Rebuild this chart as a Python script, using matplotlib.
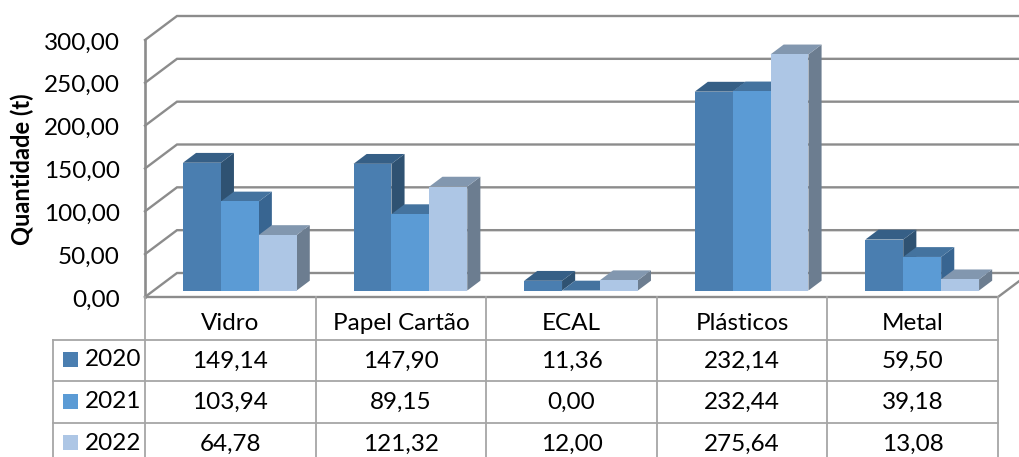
import numpy as np
import matplotlib
matplotlib.use('Agg')
import matplotlib.pyplot as plt
from matplotlib.patches import Polygon, Rectangle

plt.rcParams['font.family'] = ['Lato', 'DejaVu Sans']

categories = ['Vidro', 'Papel Cartão', 'ECAL', 'Plásticos', 'Metal']
years = ['2020', '2021', '2022']
v2020 = [149.14, 147.90, 11.36, 232.14, 59.50]
v2021 = [103.94, 89.15, 0.00, 232.44, 39.18]
v2022 = [64.78, 121.32, 12.00, 275.64, 13.08]
series = [v2020, v2021, v2022]
yticks = [0, 50, 100, 150, 200, 250, 300]

front = ['#4a7eb0', '#5b9bd5', '#adc6e5']
top = ['#365f86', '#44739f', '#8297af']
side = ['#2f5272', '#386591', '#6c7d90']
grid = '#8c8c8c'
tline = '#a6a6a6'

W, H = 1019, 457
fig = plt.figure(figsize=(W / 100, H / 100), dpi=100)

# main axes = front plane of the 3d box
L, R, B, T = 145, 998, 297, 40
ax = fig.add_axes([L / W, (H - B) / H, (R - L) / W, (B - T) / H])
ax.set_xlim(0, 5)
ax.set_ylim(0, 300)
ax.axis('off')

# depth in px, converted to data units
sx = (R - L) / 5
sy = (B - T) / 300
ddx = 32 / sx
ddy = 24 / sy


def pt(x, v, d):
    # d is depth, 0 front wall .. 1 back wall
    return (x + d * ddx, v + d * ddy)


for v in yticks:
    ax.plot(*zip(pt(0, v, 0), pt(0, v, 1), pt(5.2, v, 1)), color=grid, lw=1.7,
            clip_on=False, solid_joinstyle='miter', zorder=1)
ax.plot([0, 0], [0, 300], color=grid, lw=1.9, clip_on=False, zorder=1)
ax.plot(*zip(pt(5, 0, 1), pt(5, 0, 0), pt(0, 0, 0)), color=grid, lw=1.7, clip_on=False, zorder=1)

bw = 2 / 9
d0, d1 = 0.27, 0.68
z = 2
for i in range(len(categories)):
    for s in range(3):
        v = series[s][i]
        x0 = i + 0.505 - 1.5 * bw + s * bw
        x1 = x0 + bw
        ax.add_patch(Polygon([pt(x1, 0, d0), pt(x1, 0, d1), pt(x1, v, d1), pt(x1, v, d0)],
                             fc=side[s], ec='none', clip_on=False, zorder=z))
        ax.add_patch(Polygon([pt(x0, v, d0), pt(x1, v, d0), pt(x1, v, d1), pt(x0, v, d1)],
                             fc=top[s], ec='none', clip_on=False, zorder=z))
        ax.add_patch(Polygon([pt(x0, 0, d0), pt(x1, 0, d0), pt(x1, v, d0), pt(x0, v, d0)],
                             fc=front[s], ec='none', clip_on=False, zorder=z + 0.5))
        z += 1

for v in yticks:
    ax.text(-0.147, v - 3.5, f'{v:.2f}'.replace('.', ','), ha='right', va='center', fontsize=17.5,
            color='black', clip_on=False)

# overlay in pixels for the data table
tab = fig.add_axes([0, 0, 1, 1])
tab.set_xlim(0, W)
tab.set_ylim(H, 0)
tab.axis('off')
tab.patch.set_alpha(0)

cols = L + sx * np.arange(6)
rows = [297, 339.5, 381, 422.5, 464]
left = 53.5
for c in cols:
    tab.plot([c, c], [rows[0], rows[-1]], color=tline, lw=1.3)
tab.plot([left, left], [rows[1], rows[-1]], color=tline, lw=1.3)
for r in rows[1:]:
    tab.plot([left, R], [r, r], color=tline, lw=1.3)
tab.set_xlim(0, W)
tab.set_ylim(H, 0)

for i, name in enumerate(categories):
    tab.text((cols[i] + cols[i + 1]) / 2, 323.5, name, ha='center', va='center', fontsize=17.5)
    for s in range(3):
        txt = f'{series[s][i]:.2f}'.replace('.', ',')
        tab.text((cols[i] + cols[i + 1]) / 2, 361 + s * 41.5, txt, ha='center', va='center', fontsize=17.5)
for s, y in enumerate(years):
    tab.add_patch(Rectangle((63, 352 + s * 41.5), 15, 15, fc=front[s], ec='none'))
    tab.text(85, 360 + s * 41.5, y, ha='left', va='center', fontsize=17.5)

tab.text(22, 169, 'Quantidade (t)', rotation=90, ha='center', va='center', fontsize=17, fontweight='bold')

fig.savefig('out.png', dpi=100)
